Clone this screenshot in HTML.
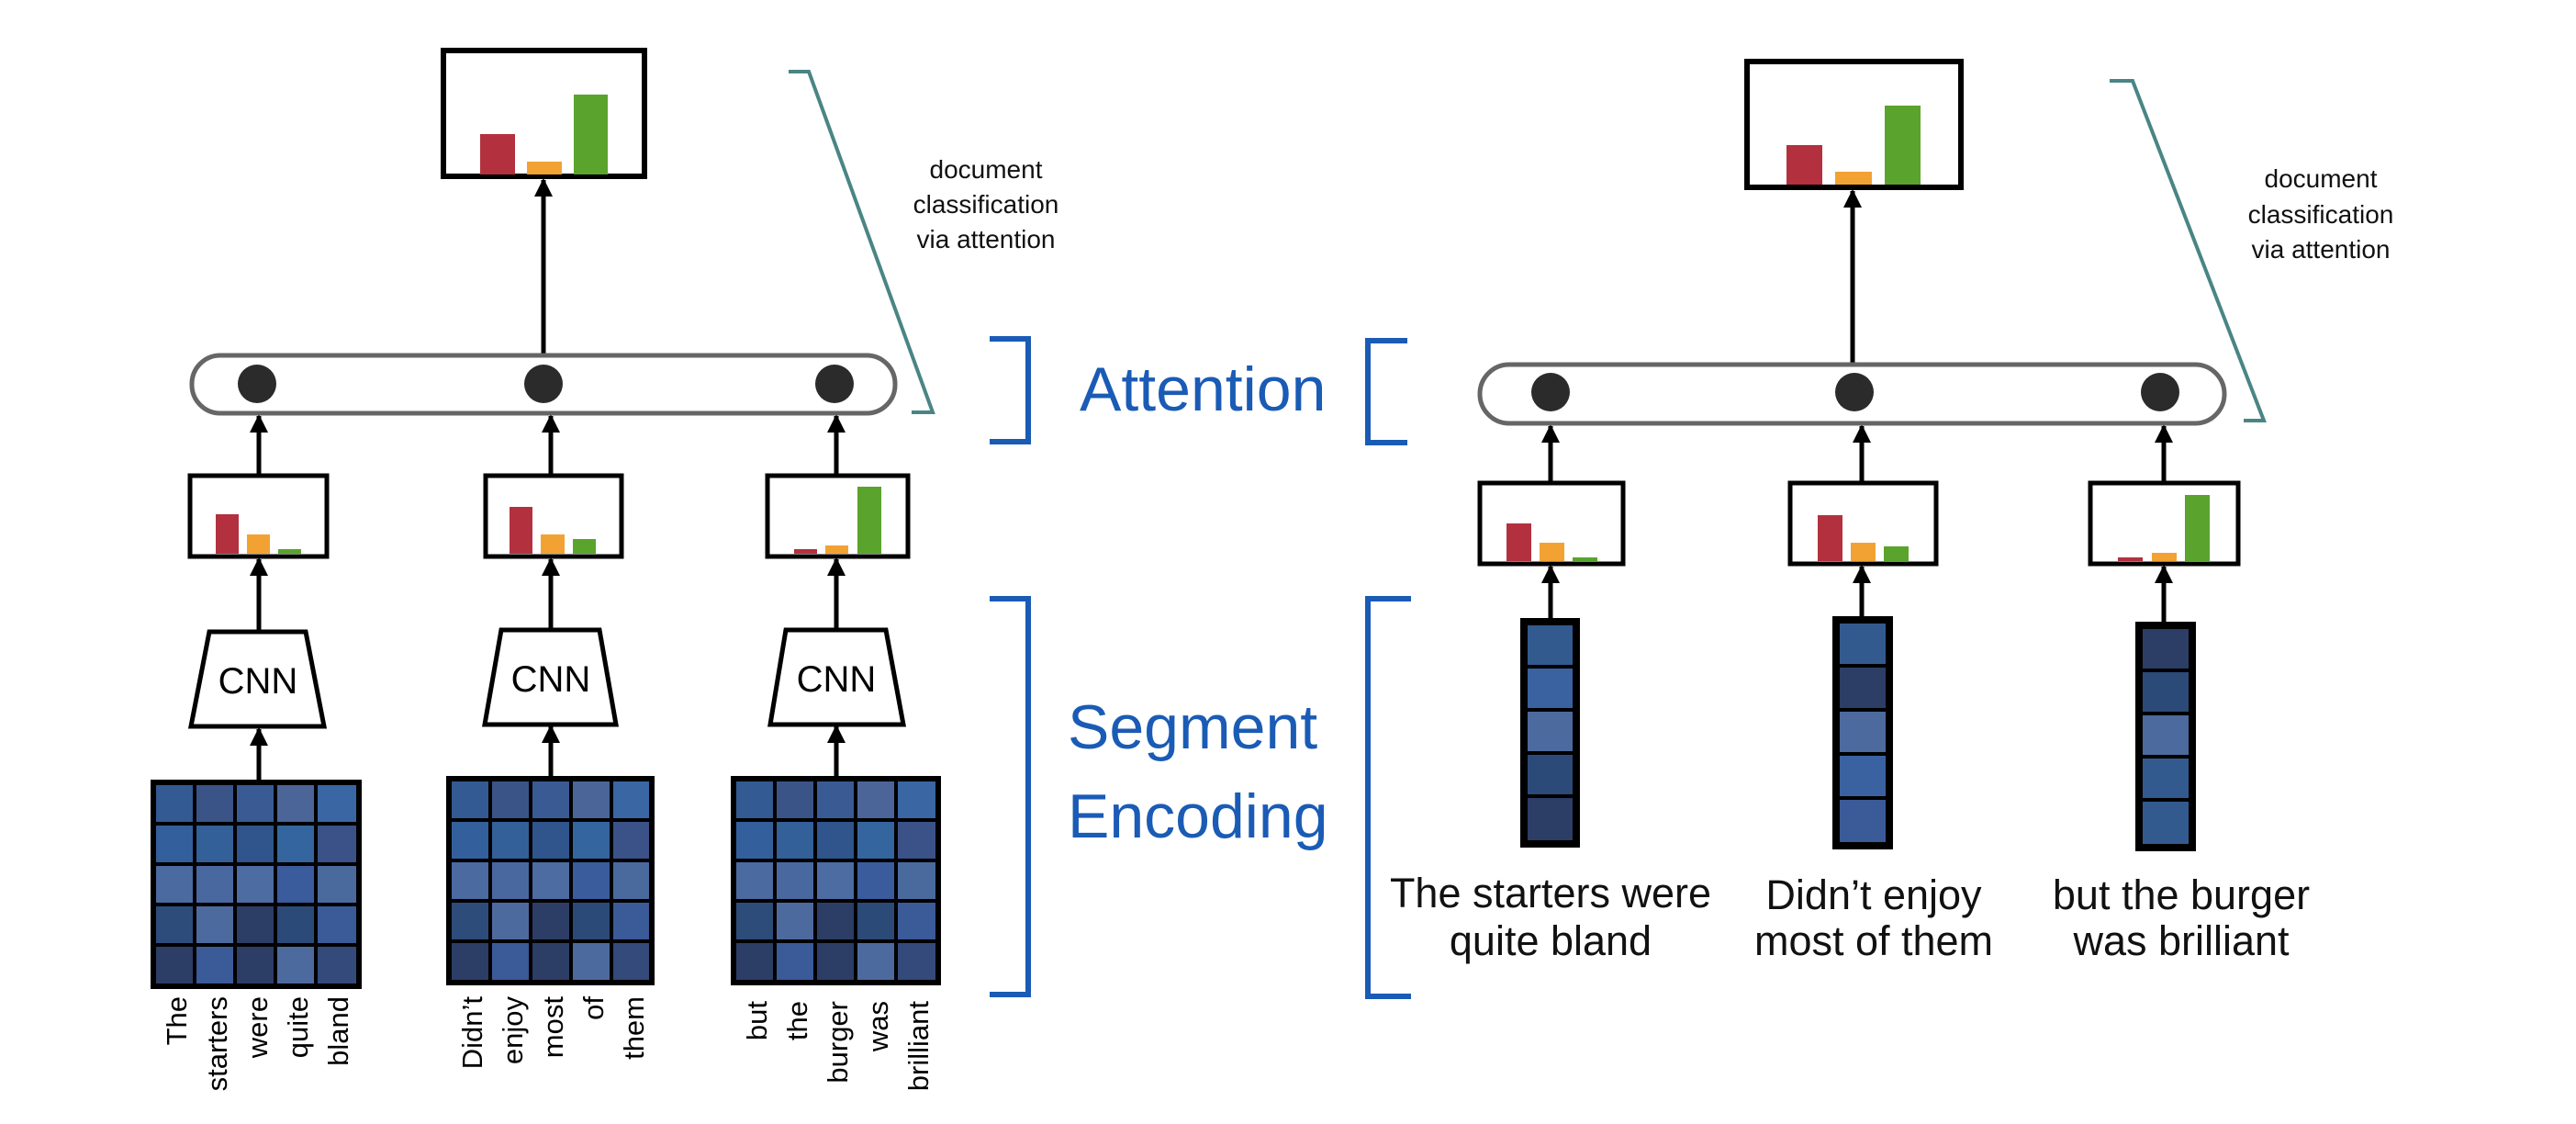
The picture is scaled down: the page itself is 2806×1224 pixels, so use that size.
<!DOCTYPE html>
<html><head><style>
html,body{margin:0;padding:0;background:#fff}
svg{display:block}
text{font-family:"Liberation Sans","DejaVu Sans",sans-serif}
</style></head><body>
<svg width="2806" height="1224" viewBox="0 0 2806 1224" xmlns="http://www.w3.org/2000/svg">
<defs>
<marker id="ah" viewBox="0 0 10 10" refX="9" refY="5" markerWidth="4" markerHeight="4" orient="auto-start-reverse" markerUnits="strokeWidth">
<path d="M0,0 L10,5 L0,10 z" fill="#000"/></marker>
</defs>
<g stroke="#000" stroke-width="5" fill="none" marker-end="url(#ah)">
<line x1="592" y1="386" x2="592" y2="196"/>
<line x1="282" y1="517" x2="282" y2="453"/>
<line x1="600" y1="517" x2="600" y2="453"/>
<line x1="911" y1="517" x2="911" y2="453"/>
<line x1="282" y1="687" x2="282" y2="609"/>
<line x1="600" y1="685" x2="600" y2="609"/>
<line x1="911" y1="685" x2="911" y2="609"/>
<line x1="282" y1="849" x2="282" y2="794"/>
<line x1="600" y1="845" x2="600" y2="791"/>
<line x1="911" y1="845" x2="911" y2="791"/>
<line x1="2018" y1="396" x2="2018" y2="208"/>
<line x1="1689" y1="525" x2="1689" y2="464"/>
<line x1="2028" y1="525" x2="2028" y2="464"/>
<line x1="2357" y1="525" x2="2357" y2="464"/>
<line x1="1689" y1="673" x2="1689" y2="617"/>
<line x1="2028" y1="671" x2="2028" y2="617"/>
<line x1="2357" y1="677" x2="2357" y2="617"/>
</g>
<rect x="483" y="55" width="219" height="137" fill="#fff" stroke="#000" stroke-width="6"/>
<rect x="523" y="146" width="38" height="44" fill="#b3313e"/>
<rect x="574" y="176" width="38" height="14" fill="#f2a233"/>
<rect x="625" y="103" width="37" height="87" fill="#5aa32d"/>
<rect x="1903" y="67" width="233" height="137" fill="#fff" stroke="#000" stroke-width="6"/>
<rect x="1946" y="158" width="39" height="43" fill="#b3313e"/>
<rect x="1999" y="187" width="40" height="14" fill="#f2a233"/>
<rect x="2053" y="115" width="39" height="86" fill="#5aa32d"/>
<rect x="209" y="387" width="766" height="63" rx="31" fill="#fff" stroke="#666" stroke-width="5"/>
<circle cx="280" cy="418" r="21" fill="#2b2b2b"/><circle cx="592" cy="418" r="21" fill="#2b2b2b"/><circle cx="909" cy="418" r="21" fill="#2b2b2b"/>
<rect x="1612" y="397" width="811" height="64" rx="32" fill="#fff" stroke="#666" stroke-width="5"/>
<circle cx="1689" cy="427" r="21" fill="#2b2b2b"/><circle cx="2020" cy="427" r="21" fill="#2b2b2b"/><circle cx="2353" cy="427" r="21" fill="#2b2b2b"/>
<polyline points="859,78 881,78 1016,449 993,449" fill="none" stroke="#4a8585" stroke-width="4"/>
<polyline points="2298,88 2323,88 2466,458 2444,458" fill="none" stroke="#4a8585" stroke-width="4"/>
<g font-size="28" fill="#111" text-anchor="middle">
<text x="1074" y="194">document</text><text x="1074" y="232">classification</text><text x="1074" y="270">via attention</text>
<text x="2528" y="204">document</text><text x="2528" y="243">classification</text><text x="2528" y="281">via attention</text>
</g>
<g fill="#fff" stroke="#000" stroke-width="5">
<rect x="207" y="518" width="149" height="88"/><rect x="529" y="518" width="148" height="88"/><rect x="836" y="518" width="153" height="88"/>
<rect x="1612" y="526" width="156" height="88"/><rect x="1950" y="526" width="159" height="88"/><rect x="2277" y="526" width="161" height="88"/>
</g>
<g>
<rect x="235" y="560" width="25" height="43" fill="#b3313e"/><rect x="269" y="582" width="25" height="21" fill="#f2a233"/><rect x="303" y="598" width="25" height="5" fill="#5aa32d"/>
<rect x="555" y="552" width="25" height="51" fill="#b3313e"/><rect x="589" y="582" width="26" height="21" fill="#f2a233"/><rect x="624" y="587" width="25" height="16" fill="#5aa32d"/>
<rect x="865" y="598" width="25" height="5" fill="#b3313e"/><rect x="899" y="594" width="25" height="9" fill="#f2a233"/><rect x="934" y="530" width="26" height="73" fill="#5aa32d"/>
<rect x="1641" y="570" width="27" height="41" fill="#b3313e"/><rect x="1677" y="591" width="27" height="20" fill="#f2a233"/><rect x="1713" y="607" width="27" height="4" fill="#5aa32d"/>
<rect x="1980" y="561" width="27" height="50" fill="#b3313e"/><rect x="2016" y="591" width="27" height="20" fill="#f2a233"/><rect x="2052" y="595" width="27" height="16" fill="#5aa32d"/>
<rect x="2307" y="607" width="27" height="4" fill="#b3313e"/><rect x="2344" y="602" width="27" height="9" fill="#f2a233"/><rect x="2380" y="539" width="27" height="72" fill="#5aa32d"/>
</g>
<g fill="#fff" stroke="#000" stroke-width="5">
<polygon points="228,688 333,688 353,791 208,791"/>
<polygon points="546,686 653,686 671,789 528,789"/>
<polygon points="856,686 965,686 984,789 839,789"/>
</g>
<g font-size="40" fill="#000" text-anchor="middle">
<text x="281" y="755">CNN</text><text x="600" y="753">CNN</text><text x="911" y="753">CNN</text>
</g>
<g>
<rect x="164" y="849" width="230" height="228" fill="#000"/>
<g transform="translate(170,855)">
<rect x="0" y="0" width="40" height="40" fill="#335a92"/><rect x="44" y="0" width="40" height="40" fill="#3a5488"/><rect x="88" y="0" width="40" height="40" fill="#3a5a94"/><rect x="132" y="0" width="40" height="40" fill="#4b6599"/><rect x="176" y="0" width="42" height="40" fill="#3a66a4"/>
<rect x="0" y="44" width="40" height="40" fill="#33609c"/><rect x="44" y="44" width="40" height="40" fill="#336098"/><rect x="88" y="44" width="40" height="40" fill="#2f558c"/><rect x="132" y="44" width="40" height="40" fill="#35659e"/><rect x="176" y="44" width="42" height="40" fill="#3a5288"/>
<rect x="0" y="88" width="40" height="40" fill="#4a6aa0"/><rect x="44" y="88" width="40" height="40" fill="#4a68a0"/><rect x="88" y="88" width="40" height="40" fill="#4c6ca2"/><rect x="132" y="88" width="40" height="40" fill="#3a5c9c"/><rect x="176" y="88" width="42" height="40" fill="#4a6a9e"/>
<rect x="0" y="132" width="40" height="40" fill="#2e4c7a"/><rect x="44" y="132" width="40" height="40" fill="#4d6a9e"/><rect x="88" y="132" width="40" height="40" fill="#2c3d66"/><rect x="132" y="132" width="40" height="40" fill="#2c4a78"/><rect x="176" y="132" width="42" height="40" fill="#3a5a98"/>
<rect x="0" y="176" width="40" height="40" fill="#2c3d66"/><rect x="44" y="176" width="40" height="40" fill="#3a5a98"/><rect x="88" y="176" width="40" height="40" fill="#2c3d66"/><rect x="132" y="176" width="40" height="40" fill="#4d6a9e"/><rect x="176" y="176" width="42" height="40" fill="#334a7a"/>
</g>
<rect x="486" y="845" width="227" height="228" fill="#000"/>
<g transform="translate(492,851)">
<rect x="0" y="0" width="40" height="40" fill="#335a92"/><rect x="44" y="0" width="40" height="40" fill="#3a5488"/><rect x="88" y="0" width="40" height="40" fill="#3a5a94"/><rect x="132" y="0" width="40" height="40" fill="#4b6599"/><rect x="176" y="0" width="39" height="40" fill="#3a66a4"/>
<rect x="0" y="44" width="40" height="40" fill="#33609c"/><rect x="44" y="44" width="40" height="40" fill="#336098"/><rect x="88" y="44" width="40" height="40" fill="#2f558c"/><rect x="132" y="44" width="40" height="40" fill="#35659e"/><rect x="176" y="44" width="39" height="40" fill="#3a5288"/>
<rect x="0" y="88" width="40" height="40" fill="#4a6aa0"/><rect x="44" y="88" width="40" height="40" fill="#4a68a0"/><rect x="88" y="88" width="40" height="40" fill="#4c6ca2"/><rect x="132" y="88" width="40" height="40" fill="#3a5c9c"/><rect x="176" y="88" width="39" height="40" fill="#4a6a9e"/>
<rect x="0" y="132" width="40" height="40" fill="#2e4c7a"/><rect x="44" y="132" width="40" height="40" fill="#4d6a9e"/><rect x="88" y="132" width="40" height="40" fill="#2c3d66"/><rect x="132" y="132" width="40" height="40" fill="#2c4a78"/><rect x="176" y="132" width="39" height="40" fill="#3a5a98"/>
<rect x="0" y="176" width="40" height="40" fill="#2c3d66"/><rect x="44" y="176" width="40" height="40" fill="#3a5a98"/><rect x="88" y="176" width="40" height="40" fill="#2c3d66"/><rect x="132" y="176" width="40" height="40" fill="#4d6a9e"/><rect x="176" y="176" width="39" height="40" fill="#334a7a"/>
</g>
<rect x="796" y="845" width="229" height="228" fill="#000"/>
<g transform="translate(802,851)">
<rect x="0" y="0" width="40" height="40" fill="#335a92"/><rect x="44" y="0" width="40" height="40" fill="#3a5488"/><rect x="88" y="0" width="40" height="40" fill="#3a5a94"/><rect x="132" y="0" width="40" height="40" fill="#4b6599"/><rect x="176" y="0" width="41" height="40" fill="#3a66a4"/>
<rect x="0" y="44" width="40" height="40" fill="#33609c"/><rect x="44" y="44" width="40" height="40" fill="#336098"/><rect x="88" y="44" width="40" height="40" fill="#2f558c"/><rect x="132" y="44" width="40" height="40" fill="#35659e"/><rect x="176" y="44" width="41" height="40" fill="#3a5288"/>
<rect x="0" y="88" width="40" height="40" fill="#4a6aa0"/><rect x="44" y="88" width="40" height="40" fill="#4a68a0"/><rect x="88" y="88" width="40" height="40" fill="#4c6ca2"/><rect x="132" y="88" width="40" height="40" fill="#3a5c9c"/><rect x="176" y="88" width="41" height="40" fill="#4a6a9e"/>
<rect x="0" y="132" width="40" height="40" fill="#2e4c7a"/><rect x="44" y="132" width="40" height="40" fill="#4d6a9e"/><rect x="88" y="132" width="40" height="40" fill="#2c3d66"/><rect x="132" y="132" width="40" height="40" fill="#2c4a78"/><rect x="176" y="132" width="41" height="40" fill="#3a5a98"/>
<rect x="0" y="176" width="40" height="40" fill="#2c3d66"/><rect x="44" y="176" width="40" height="40" fill="#3a5a98"/><rect x="88" y="176" width="40" height="40" fill="#2c3d66"/><rect x="132" y="176" width="40" height="40" fill="#4d6a9e"/><rect x="176" y="176" width="41" height="40" fill="#334a7a"/>
</g>
</g>
<g font-size="31" fill="#000" text-anchor="end">
<text transform="translate(203,1085) rotate(-90)">The</text>
<text transform="translate(247,1085) rotate(-90)">starters</text>
<text transform="translate(291,1085) rotate(-90)">were</text>
<text transform="translate(335,1085) rotate(-90)">quite</text>
<text transform="translate(379,1085) rotate(-90)">bland</text>
<text transform="translate(525,1085) rotate(-90)">Didn’t</text>
<text transform="translate(569,1085) rotate(-90)">enjoy</text>
<text transform="translate(613,1085) rotate(-90)">most</text>
<text transform="translate(657,1085) rotate(-90)">of</text>
<text transform="translate(701,1085) rotate(-90)">them</text>
<text transform="translate(835,1090) rotate(-90)">but</text>
<text transform="translate(879,1090) rotate(-90)">the</text>
<text transform="translate(923,1090) rotate(-90)">burger</text>
<text transform="translate(967,1090) rotate(-90)">was</text>
<text transform="translate(1011,1090) rotate(-90)">brilliant</text>
</g>
<g fill="none" stroke="#1a5bb5" stroke-width="6">
<polyline points="1078,369 1120,369 1120,481 1078,481"/>
<polyline points="1078,652 1120,652 1120,1083 1078,1083"/>
<polyline points="1533,371 1490,371 1490,482 1533,482"/>
<polyline points="1537,652 1490,652 1490,1085 1537,1085"/>
</g>
<g font-size="68" fill="#1a5bb5">
<text x="1176" y="447">Attention</text>
<text x="1163" y="815">Segment</text>
<text x="1163" y="912">Encoding</text>
</g>
<g>
<rect x="1656" y="673" width="65" height="250" fill="#000"/>
<rect x="1664" y="681" width="49" height="43" fill="#335a8e"/><rect x="1664" y="728" width="49" height="43" fill="#3a62a0"/><rect x="1664" y="775" width="49" height="43" fill="#4d6a9e"/><rect x="1664" y="822" width="49" height="43" fill="#2c4a78"/><rect x="1664" y="869" width="49" height="46" fill="#2c3d66"/>
<rect x="1996" y="671" width="66" height="254" fill="#000"/>
<rect x="2004" y="679" width="50" height="44" fill="#335a8e"/><rect x="2004" y="727" width="50" height="44" fill="#2c3d66"/><rect x="2004" y="775" width="50" height="44" fill="#4d6a9e"/><rect x="2004" y="823" width="50" height="44" fill="#3a62a0"/><rect x="2004" y="871" width="50" height="46" fill="#3a5a98"/>
<rect x="2326" y="677" width="66" height="250" fill="#000"/>
<rect x="2334" y="685" width="50" height="43" fill="#2c3d66"/><rect x="2334" y="732" width="50" height="43" fill="#2c4a78"/><rect x="2334" y="779" width="50" height="43" fill="#4d6a9e"/><rect x="2334" y="826" width="50" height="43" fill="#335a8e"/><rect x="2334" y="873" width="50" height="46" fill="#335a8e"/>
</g>
<g font-size="45" fill="#111" text-anchor="middle">
<text x="1689" y="988">The starters were</text><text x="1689" y="1040">quite bland</text>
<text x="2041" y="990">Didn’t enjoy</text><text x="2041" y="1040">most of them</text>
<text x="2376" y="990">but the burger</text><text x="2376" y="1040">was brilliant</text>
</g>
</svg>
</body></html>
